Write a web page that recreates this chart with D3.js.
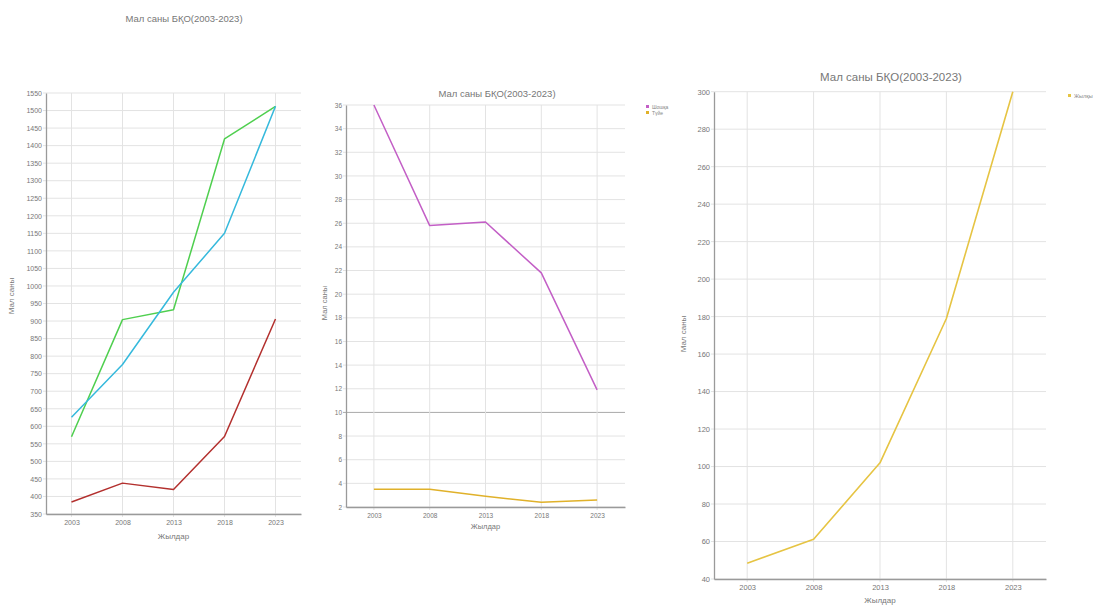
<!DOCTYPE html>
<html><head><meta charset="utf-8">
<script src="https://cdn.jsdelivr.net/npm/d3@7"></script>
<style>body{margin:0;background:#fff;font-family:"Liberation Sans",Arial,sans-serif}</style>
</head><body><svg id="c" width="1107" height="605"></svg>
<script>
const years = ["2003","2008","2013","2018","2023"];
const title = "Мал саны БҚО(2003-2023)";
const yLabel = "Мал саны";
const xLabel = "Жылдар";
// chart 1 (thousand head)
const c1Green = [570, 904, 932, 1419, 1512];
const c1Blue  = [626, 776, 982, 1150, 1512];
const c1Red   = [384, 438, 420, 571, 906];
const c1Ticks = d3.range(350, 1551, 50);
// chart 2
const c2Names = ["Шошқа","Түйе"];
const c2Pig   = [36, 25.8, 26.1, 21.8, 11.9];
const c2Camel = [3.5, 3.5, 2.9, 2.4, 2.6];
const c2Ticks = d3.range(2, 37, 2);
// chart 3
const c3Names = ["Жылқы"];
const c3Horse = [48.4, 61.2, 102, 179, 300];
const c3Ticks = d3.range(40, 301, 20);

const svg = d3.select("#c");

function chart(o){
  const g = svg.append("g");
  const x = d3.scalePoint().domain(years).range([o.x0,o.x1]).padding(0.5);
  const y = d3.scaleLinear().domain([o.ticks[0], o.ticks[o.ticks.length-1]]).range([o.y1,o.y0]);
  g.append("g").selectAll("line").data(o.ticks).join("line")
    .attr("x1",o.x0-3).attr("x2",o.x1).attr("y1",d=>y(d)).attr("y2",d=>y(d))
    .attr("stroke",d=>o.dark && d===o.dark ? "#aaa" : "#e3e3e3").attr("stroke-width",1);
  g.append("g").selectAll("line").data(years).join("line")
    .attr("x1",d=>x(d)).attr("x2",d=>x(d)).attr("y1",o.y0).attr("y2",o.y1+3)
    .attr("stroke","#e3e3e3");
  const ya = g.append("g").attr("transform",`translate(${o.x0},0)`)
    .call(d3.axisLeft(y).tickValues(o.ticks).tickSize(0).tickPadding(4).tickFormat(d3.format("d")));
  const xa = g.append("g").attr("transform",`translate(0,${o.y1})`)
    .call(d3.axisBottom(x).tickSize(0).tickPadding(o.xpad));
  [ya,xa].forEach(a=>{
    a.select(".domain").attr("stroke","#9a9a9a").attr("stroke-width",1.3);
    a.selectAll("text").attr("fill","#777").style("font-size",o.fs+"px").style("font-family","Liberation Sans, Arial, sans-serif");
  });
  o.series.forEach(s=>{
    g.append("path").datum(s.v)
      .attr("fill","none").attr("stroke",s.c).attr("stroke-width",o.sw).attr("stroke-linejoin","round")
      .attr("d", d3.line().x((d,i)=>x(years[i])).y(d=>y(d)));
  });
  g.append("text").attr("x",o.tx).attr("y",o.ty).attr("text-anchor","middle")
    .attr("fill","#777").style("font-size",o.tfs+"px").text(title);
  g.append("text").attr("transform",`translate(${o.ylx},${o.yly}) rotate(-90)`)
    .attr("text-anchor","middle").attr("fill","#777").style("font-size",o.lfs+"px").text(yLabel);
  g.append("text").attr("x",(o.x0+o.x1)/2).attr("y",o.xly).attr("text-anchor","middle")
    .attr("fill","#777").style("font-size",o.lfs+"px").text(xLabel);
  if(o.legend){
    o.legend.forEach((l,i)=>{
      g.append("rect").attr("x",o.lgx).attr("y",o.lgy+i*6-2).attr("width",3).attr("height",3).attr("fill",l.c);
      g.append("text").attr("x",o.lgx+6).attr("y",o.lgy+i*6+1.5).attr("fill","#888")
        .style("font-size",o.lgfs+"px").text(l.n);
    });
  }
}

chart({x0:46,x1:301,y0:93,y1:514,ticks:c1Ticks,fs:7,xpad:6,sw:1.5,
  series:[{v:c1Green,c:"#4fcf4f"},{v:c1Blue,c:"#35b9dc"},{v:c1Red,c:"#b3302e"}],
  tx:184,ty:22,tfs:9.5,ylx:14,yly:296,xly:539,lfs:8});

chart({x0:346,x1:625,y0:105,y1:507,ticks:c2Ticks,fs:6.5,xpad:6,sw:1.5,dark:10,
  series:[{v:c2Pig,c:"#c35fc6"},{v:c2Camel,c:"#e0b12a"}],
  tx:497,ty:97,tfs:9.5,ylx:327,yly:303,xly:529,lfs:7.5,
  legend:[{n:c2Names[0],c:"#c35fc6"},{n:c2Names[1],c:"#e0b12a"}],lgx:646,lgy:107,lgfs:5});

chart({x0:714,x1:1046,y0:91.7,y1:579,ticks:c3Ticks,fs:7.5,xpad:6,sw:1.6,
  series:[{v:c3Horse,c:"#e6c443"}],
  tx:891,ty:81,tfs:11.5,ylx:686,yly:334,xly:603,lfs:8,
  legend:[{n:c3Names[0],c:"#e6c443"}],lgx:1068,lgy:96,lgfs:5.5});
</script>
</body></html>
